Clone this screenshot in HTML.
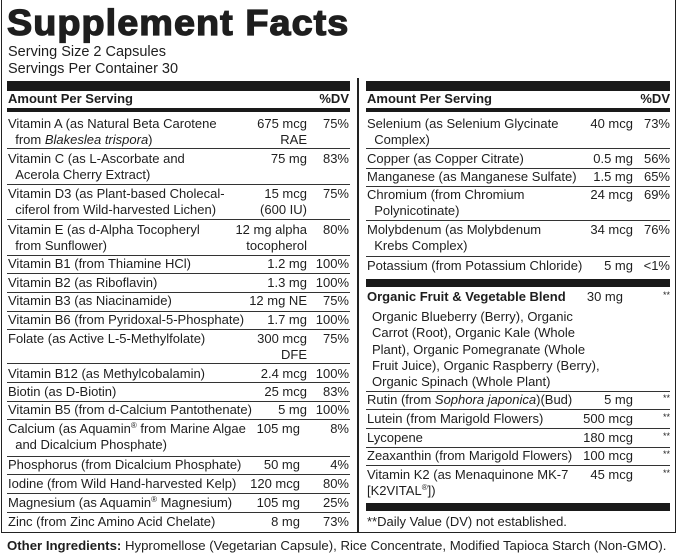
<!DOCTYPE html>
<html><head><meta charset="utf-8"><style>
body{margin:0;background:#fff;}
#c{position:relative;width:679px;height:555px;overflow:hidden;font-family:"Liberation Sans",sans-serif;color:#1e1e1e;font-size:13px;}
.t{position:absolute;line-height:16px;white-space:nowrap;}
.r{text-align:right;}
.l{position:absolute;height:1px;background:#333;}
.b{position:absolute;background:#1a1a1a;}
sup{font-size:8px;vertical-align:top;line-height:10px;}
</style></head><body><div id="c">
<div style="position:absolute;left:1px;top:-2px;width:675px;height:535px;border:1.5px solid #222;border-top:none;box-sizing:border-box;"></div>
<div style="position:absolute;left:357px;top:78px;width:1.5px;height:455px;background:#222;"></div>
<div class="t" style="left:7px;top:3px;font-size:36px;line-height:40px;font-weight:bold;letter-spacing:1px;-webkit-text-stroke:1.3px #1e1e1e;transform:scaleX(1.05);transform-origin:0 0;">Supplement Facts</div>
<div class="t" style="left:8px;top:44px;font-size:14.5px;">Serving Size 2 Capsules</div>
<div class="t" style="left:8px;top:61px;font-size:14.5px;">Servings Per Container 30</div>

<div class="b" style="left:7px;top:81px;width:343px;height:10px;"></div>
<div class="t" style="left:8px;top:91px;font-weight:bold;">Amount Per Serving</div>
<div class="t r" style="left:300px;width:49px;top:91px;font-weight:bold;">%DV</div>
<div class="b" style="left:7px;top:108px;width:343px;height:4px;"></div>
<div class="b" style="left:366px;top:81px;width:304px;height:10px;"></div>
<div class="t" style="left:367px;top:91px;font-weight:bold;">Amount Per Serving</div>
<div class="t r" style="left:620px;width:50px;top:91px;font-weight:bold;">%DV</div>
<div class="b" style="left:366px;top:108px;width:304px;height:4px;"></div>

<div class="l" style="left:7px;width:343px;top:148px"></div>
<div class="l" style="left:7px;width:343px;top:184px"></div>
<div class="l" style="left:7px;width:343px;top:219px"></div>
<div class="l" style="left:7px;width:343px;top:255px"></div>
<div class="l" style="left:7px;width:343px;top:273px"></div>
<div class="l" style="left:7px;width:343px;top:292px"></div>
<div class="l" style="left:7px;width:343px;top:311px"></div>
<div class="l" style="left:7px;width:343px;top:329px"></div>
<div class="l" style="left:7px;width:343px;top:363px"></div>
<div class="l" style="left:7px;width:343px;top:382px"></div>
<div class="l" style="left:7px;width:343px;top:401px"></div>
<div class="l" style="left:7px;width:343px;top:419px"></div>
<div class="l" style="left:7px;width:343px;top:456px"></div>
<div class="l" style="left:7px;width:343px;top:474px"></div>
<div class="l" style="left:7px;width:343px;top:493px"></div>
<div class="l" style="left:7px;width:343px;top:512px"></div>

<div class="t" style="left:8px;top:116px">Vitamin A (as Natural Beta Carotene<br>&nbsp;&nbsp;from <i>Blakeslea trispora</i>)</div>
<div class="t r" style="left:230px;width:77px;top:116px">675 mcg<br>RAE</div><div class="t r" style="left:310px;width:39px;top:116px">75%</div>
<div class="t" style="left:8px;top:151px">Vitamin C (as L-Ascorbate and<br>&nbsp;&nbsp;Acerola Cherry Extract)</div>
<div class="t r" style="left:230px;width:77px;top:151px">75 mg</div><div class="t r" style="left:310px;width:39px;top:151px">83%</div>
<div class="t" style="left:8px;top:186px">Vitamin D3 (as Plant-based Cholecal-<br>&nbsp;&nbsp;ciferol from Wild-harvested Lichen)</div>
<div class="t r" style="left:230px;width:77px;top:186px">15 mcg<br>(600 IU)</div><div class="t r" style="left:310px;width:39px;top:186px">75%</div>
<div class="t" style="left:8px;top:222px">Vitamin E (as d-Alpha Tocopheryl<br>&nbsp;&nbsp;from Sunflower)</div>
<div class="t r" style="left:220px;width:87px;top:222px">12 mg alpha<br>tocopherol</div><div class="t r" style="left:310px;width:39px;top:222px">80%</div>
<div class="t" style="left:8px;top:256px">Vitamin B1 (from Thiamine HCl)</div>
<div class="t r" style="left:230px;width:77px;top:256px">1.2 mg</div><div class="t r" style="left:310px;width:39px;top:256px">100%</div>
<div class="t" style="left:8px;top:275px">Vitamin B2 (as Riboflavin)</div>
<div class="t r" style="left:230px;width:77px;top:275px">1.3 mg</div><div class="t r" style="left:310px;width:39px;top:275px">100%</div>
<div class="t" style="left:8px;top:293px">Vitamin B3 (as Niacinamide)</div>
<div class="t r" style="left:230px;width:77px;top:293px">12 mg NE</div><div class="t r" style="left:310px;width:39px;top:293px">75%</div>
<div class="t" style="left:8px;top:312px">Vitamin B6 (from Pyridoxal-5-Phosphate)</div>
<div class="t r" style="left:230px;width:77px;top:312px">1.7 mg</div><div class="t r" style="left:310px;width:39px;top:312px">100%</div>
<div class="t" style="left:8px;top:331px">Folate (as Active L-5-Methylfolate)</div>
<div class="t r" style="left:230px;width:77px;top:331px">300 mcg<br>DFE</div><div class="t r" style="left:310px;width:39px;top:331px">75%</div>
<div class="t" style="left:8px;top:366px">Vitamin B12 (as Methylcobalamin)</div>
<div class="t r" style="left:230px;width:77px;top:366px">2.4 mcg</div><div class="t r" style="left:310px;width:39px;top:366px">100%</div>
<div class="t" style="left:8px;top:384px">Biotin (as D-Biotin)</div>
<div class="t r" style="left:230px;width:77px;top:384px">25 mcg</div><div class="t r" style="left:310px;width:39px;top:384px">83%</div>
<div class="t" style="left:8px;top:402px">Vitamin B5 (from d-Calcium Pantothenate)</div>
<div class="t r" style="left:230px;width:77px;top:402px">5 mg</div><div class="t r" style="left:310px;width:39px;top:402px">100%</div>
<div class="t" style="left:8px;top:421px">Calcium (as Aquamin<sup>®</sup> from Marine Algae<br>&nbsp;&nbsp;and Dicalcium Phosphate)</div>
<div class="t r" style="left:230px;width:70px;top:421px">105 mg</div><div class="t r" style="left:310px;width:39px;top:421px">8%</div>
<div class="t" style="left:8px;top:457px">Phosphorus (from Dicalcium Phosphate)</div>
<div class="t r" style="left:230px;width:70px;top:457px">50 mg</div><div class="t r" style="left:310px;width:39px;top:457px">4%</div>
<div class="t" style="left:8px;top:476px">Iodine (from Wild Hand-harvested Kelp)</div>
<div class="t r" style="left:230px;width:70px;top:476px">120 mcg</div><div class="t r" style="left:310px;width:39px;top:476px">80%</div>
<div class="t" style="left:8px;top:495px">Magnesium (as Aquamin<sup>®</sup> Magnesium)</div>
<div class="t r" style="left:230px;width:70px;top:495px">105 mg</div><div class="t r" style="left:310px;width:39px;top:495px">25%</div>
<div class="t" style="left:8px;top:514px">Zinc (from Zinc Amino Acid Chelate)</div>
<div class="t r" style="left:230px;width:70px;top:514px">8 mg</div><div class="t r" style="left:310px;width:39px;top:514px">73%</div>

<div class="l" style="left:366px;width:304px;top:148px"></div>
<div class="l" style="left:366px;width:304px;top:168px"></div>
<div class="l" style="left:366px;width:304px;top:186px"></div>
<div class="l" style="left:366px;width:304px;top:220px"></div>
<div class="l" style="left:366px;width:304px;top:256px"></div>
<div class="b" style="left:366px;top:279px;width:304px;height:8px;"></div>
<div class="l" style="left:366px;width:304px;top:391px"></div>
<div class="l" style="left:366px;width:304px;top:409px"></div>
<div class="l" style="left:366px;width:304px;top:428px"></div>
<div class="l" style="left:366px;width:304px;top:447px"></div>
<div class="l" style="left:366px;width:304px;top:465px"></div>
<div class="b" style="left:366px;top:503px;width:304px;height:8px;"></div>

<div class="t" style="left:367px;top:116px">Selenium (as Selenium Glycinate<br>&nbsp;&nbsp;Complex)</div>
<div class="t r" style="left:560px;width:73px;top:116px">40 mcg</div><div class="t r" style="left:635px;width:35px;top:116px">73%</div>
<div class="t" style="left:367px;top:151px">Copper (as Copper Citrate)</div>
<div class="t r" style="left:560px;width:73px;top:151px">0.5 mg</div><div class="t r" style="left:635px;width:35px;top:151px">56%</div>
<div class="t" style="left:367px;top:169px">Manganese (as Manganese Sulfate)</div>
<div class="t r" style="left:560px;width:73px;top:169px">1.5 mg</div><div class="t r" style="left:635px;width:35px;top:169px">65%</div>
<div class="t" style="left:367px;top:187px">Chromium (from Chromium<br>&nbsp;&nbsp;Polynicotinate)</div>
<div class="t r" style="left:560px;width:73px;top:187px">24 mcg</div><div class="t r" style="left:635px;width:35px;top:187px">69%</div>
<div class="t" style="left:367px;top:222px">Molybdenum (as Molybdenum<br>&nbsp;&nbsp;Krebs Complex)</div>
<div class="t r" style="left:560px;width:73px;top:222px">34 mcg</div><div class="t r" style="left:635px;width:35px;top:222px">76%</div>
<div class="t" style="left:367px;top:258px">Potassium (from Potassium Chloride)</div>
<div class="t r" style="left:560px;width:73px;top:258px">5 mg</div><div class="t r" style="left:635px;width:35px;top:258px">&lt;1%</div>
<div class="t" style="left:367px;top:289px;font-weight:bold;">Organic Fruit &amp; Vegetable Blend</div>
<div class="t r" style="left:560px;width:63px;top:289px">30 mg</div><div class="t r" style="left:635px;width:35px;top:287px;font-size:9px;">**</div>
<div class="t" style="left:372px;top:309px;line-height:16.3px">Organic Blueberry (Berry), Organic<br>Carrot (Root), Organic Kale (Whole<br>Plant), Organic Pomegranate (Whole<br>Fruit Juice), Organic Raspberry (Berry),<br>Organic Spinach (Whole Plant)</div>
<div class="t" style="left:367px;top:392px">Rutin (from <i>Sophora japonica</i>)(Bud)</div>
<div class="t r" style="left:560px;width:73px;top:392px">5 mg</div><div class="t r" style="left:635px;width:35px;top:390px;font-size:9px;">**</div>
<div class="t" style="left:367px;top:411px">Lutein (from Marigold Flowers)</div>
<div class="t r" style="left:560px;width:73px;top:411px">500 mcg</div><div class="t r" style="left:635px;width:35px;top:409px;font-size:9px;">**</div>
<div class="t" style="left:367px;top:430px">Lycopene</div>
<div class="t r" style="left:560px;width:73px;top:430px">180 mcg</div><div class="t r" style="left:635px;width:35px;top:428px;font-size:9px;">**</div>
<div class="t" style="left:367px;top:448px">Zeaxanthin (from Marigold Flowers)</div>
<div class="t r" style="left:560px;width:73px;top:448px">100 mcg</div><div class="t r" style="left:635px;width:35px;top:446px;font-size:9px;">**</div>
<div class="t" style="left:367px;top:467px">Vitamin K2 (as Menaquinone MK-7<br>[K2VITAL<sup>®</sup>])</div>
<div class="t r" style="left:560px;width:73px;top:467px">45 mcg</div><div class="t r" style="left:635px;width:35px;top:465px;font-size:9px;">**</div>
<div class="t" style="left:367px;top:514px">**Daily Value (DV) not established.</div>

<div class="t" style="left:7px;top:538px;font-size:13.2px;"><b>Other Ingredients:</b> Hypromellose (Vegetarian Capsule), Rice Concentrate, Modified Tapioca Starch (Non-GMO).</div>
</div></body></html>
